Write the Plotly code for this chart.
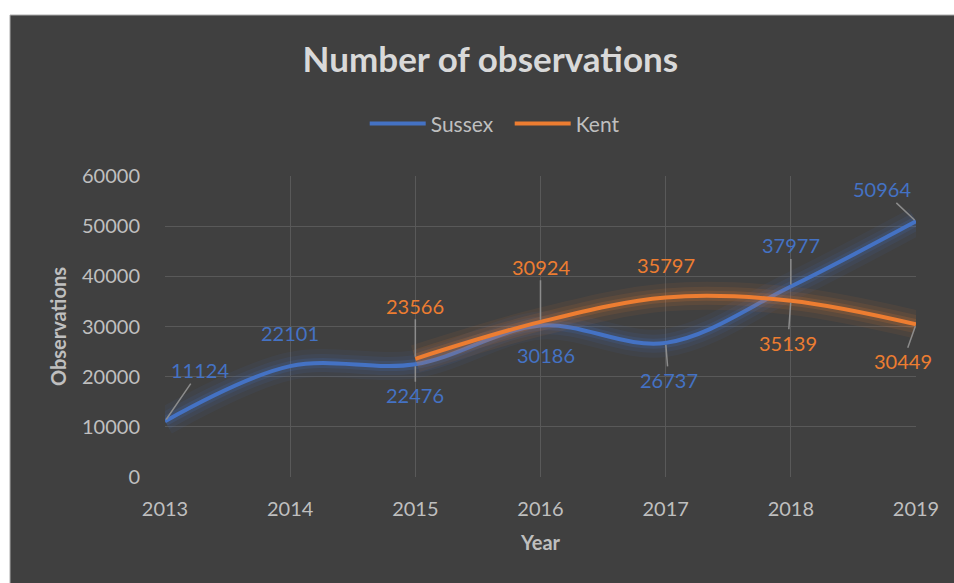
import plotly.graph_objects as go

years = [2013, 2014, 2015, 2016, 2017, 2018, 2019]
sussex = [11124, 22101, 22476, 30186, 26737, 37977, 50964]
kent = [None, None, 23566, 30924, 35797, 35139, 30449]

# label placement offsets (px) and whether a leader line is drawn
sussex_lab = [(35, -51, True), (0, -33, False), (0, 31, True), (5, 29, False),
              (3, 37, True), (0, -41, True), (-34, -32, True)]
kent_lab = [None, None, (0, -53, True), (0, -55, True), (0, -32, False),
            (-3, 42, True), (-13, 37, True)]

S_COL = "#4472C4"
K_COL = "#ED7D31"
BG = "#404040"
FONT = "Lato"

fig = go.Figure()

def add_series(name, ys, col):
    xs = [x for x, y in zip(years, ys) if y is not None]
    yv = [y for y in ys if y is not None]
    for w, op in [(28, 0.07), (18, 0.1), (10, 0.16)]:
        fig.add_trace(go.Scatter(x=xs, y=yv, mode="lines", line=dict(color=col, width=w, shape="spline"),
                                 opacity=op, showlegend=False, hoverinfo="skip"))
    fig.add_trace(go.Scatter(x=xs, y=yv, mode="lines", name=name,
                             line=dict(color=col, width=4, shape="spline")))

add_series("Sussex", sussex, S_COL)
add_series("Kent", kent, K_COL)

def add_labels(ys, labs, col):
    for x, y, lab in zip(years, ys, labs):
        if y is None or lab is None:
            continue
        ax, ay, leader = lab
        if leader:
            fig.add_annotation(x=x, y=y, text=str(y), showarrow=True, ax=ax, ay=ay,
                               arrowhead=0, arrowwidth=1.5, arrowcolor="#8c8c8c", standoff=2,
                               font=dict(family=FONT, size=20, color=col))
        else:
            fig.add_annotation(x=x, y=y, text=str(y), showarrow=False, xshift=ax, yshift=-ay,
                               font=dict(family=FONT, size=20, color=col))

add_labels(sussex, sussex_lab, S_COL)
add_labels(kent, kent_lab, K_COL)

# white outer strips (top and left) and thin border
fig.add_shape(type="rect", xref="paper", yref="paper", x0=-0.3, x1=1.1, y0=1.5349, y1=1.7,
              fillcolor="white", line=dict(width=0), layer="above")
fig.add_shape(type="rect", xref="paper", yref="paper", x0=-0.3, x1=-0.2064, y0=-0.5, y1=1.7,
              fillcolor="white", line=dict(width=0), layer="above")
fig.add_shape(type="line", xref="paper", yref="paper", x0=-0.2064, x1=1.1, y0=1.5349, y1=1.5349,
              line=dict(color="#b0b0b0", width=1), layer="above")
fig.add_shape(type="line", xref="paper", yref="paper", x0=-0.2064, x1=-0.2064, y0=-0.5, y1=1.5349,
              line=dict(color="#b0b0b0", width=1), layer="above")

fig.update_layout(
    width=954, height=583,
    margin=dict(l=165, r=38, t=176, b=106),
    paper_bgcolor=BG, plot_bgcolor=BG,
    font=dict(family=FONT, color="#bfbfbf", size=20),
    title=dict(text="<b>Number of observations</b>", x=0.514, xanchor="center", y=0.897, yanchor="middle",
               font=dict(family=FONT, size=35, color="#d9d9d9")),
    legend=dict(orientation="h", x=0.459, xanchor="center", y=1.173, yanchor="middle",
                itemwidth=56, entrywidth=74, font=dict(family=FONT, size=21, color="#bfbfbf"),
                bgcolor="rgba(0,0,0,0)"),
    xaxis=dict(range=[2013, 2019], tickmode="array", tickvals=years, ticktext=[str(y) for y in years],
               showgrid=True, gridcolor="#595959", gridwidth=1, zeroline=False,
               showline=False, ticks="outside", ticklen=14, tickcolor="rgba(0,0,0,0)",
               tickfont=dict(family=FONT, size=20, color="#bfbfbf"),
               title=dict(text="<b>Year</b>", font=dict(family=FONT, size=20, color="#bfbfbf"), standoff=16)),
    yaxis=dict(range=[0, 60000], dtick=10000, tickformat="d", showgrid=True, gridcolor="#595959", gridwidth=1,
               zeroline=False, showline=False, ticks="outside", ticklen=20, tickcolor="rgba(0,0,0,0)",
               tickfont=dict(family=FONT, size=20, color="#bfbfbf"),
               title=dict(text="<b>Observations</b>", font=dict(family=FONT, size=20, color="#bfbfbf"), standoff=10)),
)

fig.write_html("out.html")
